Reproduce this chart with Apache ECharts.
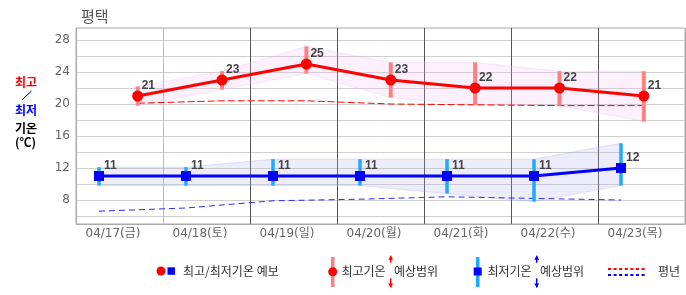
<!DOCTYPE html>
<html><head><meta charset="utf-8">
<script src="https://cdn.jsdelivr.net/npm/echarts@6/dist/echarts.min.js"></script>
<style>html,body{margin:0;padding:0;background:#fff}#c{width:686px;height:295px}</style>
</head><body><div id="c"></div>
<script>
// ---- data ----
const categories = ['04/17(금)','04/18(토)','04/19(일)','04/20(월)','04/21(화)','04/22(수)','04/23(목)'];
const maxTemp = [21, 23, 25, 23, 22, 22, 21];
const maxRangeLow = [19.8, 21.8, 23.8, 20.8, 19.9, 19.8, 17.8];
const maxRangeHigh = [22.2, 24.1, 27.2, 25.2, 25.2, 24.1, 24.1];
const maxNormal = [20.1, 20.4, 20.4, 20.0, 19.9, 19.8, 19.8];
const minTemp = [11, 11, 11, 11, 11, 11, 12];
const minRangeLow = [9.8, 9.8, 9.8, 9.8, 8.8, 7.8, 9.8];
const minRangeHigh = [12.1, 12.1, 13.1, 13.1, 13.1, 13.1, 15.1];
const minNormal = [6.6, 7.0, 7.9, 8.1, 8.4, 8.2, 8.0];
const yTickLabels = [8, 12, 16, 20, 24, 28];
const yMin = 5, yMax = 29.5;

// ---- styles ----
const FONT = '"DejaVu Sans", "Noto Sans CJK KR", sans-serif';
const KFONT = '"Noto Sans CJK KR", sans-serif';
const RED = '#ff0000', BLUE = '#0000ff';
const GRID_TOP = 28, GRID_BOTTOM = 71, GRID_W = 609;
const PLOT_LEFT = 76, LOW_SHIFT = -20.5, HIGH_SHIFT = 19.5;

const chart = echarts.init(document.getElementById('c'), null, {renderer: 'canvas'});

function hiddenX(gi) {
  return {type: 'category', data: categories, gridIndex: gi, show: false, boundaryGap: true};
}
function hiddenY(gi) {
  return {type: 'value', min: yMin, max: yMax, gridIndex: gi, show: false, splitLine: {show: false}};
}
function errBar(xi, lo, hi, color, w, z) {
  return {
    type: 'custom', xAxisIndex: xi, yAxisIndex: xi, z: z, silent: true, clip: false,
    data: categories.map((c, i) => [i, lo[i], hi[i]]),
    encode: {x: 0, y: [1, 2]},
    renderItem: function (params, api) {
      const t = api.coord([api.value(0), api.value(2)]);
      const b = api.coord([api.value(0), api.value(1)]);
      return {type: 'rect', shape: {x: t[0] - w / 2, y: t[1], width: w, height: b[1] - t[1]}, style: {fill: color}};
    }
  };
}
function band(xi, lo, hi, fill, edge, stack) {
  return [
    {type: 'line', xAxisIndex: xi, yAxisIndex: xi, stack: stack, data: lo, symbol: 'none', silent: true, z: 1,
     lineStyle: {width: 1, color: edge}},
    {type: 'line', xAxisIndex: xi, yAxisIndex: xi, stack: stack, data: hi.map((v, i) => +(v - lo[i]).toFixed(2)),
     symbol: 'none', silent: true, z: 1, lineStyle: {width: 1, color: edge}, areaStyle: {color: fill, opacity: 1}}
  ];
}
const labelStyle = {show: true, position: 'right', color: '#444', fontSize: 12, fontWeight: 'bold',
  fontFamily: '"Liberation Sans", Arial, sans-serif'};

const arrow = (x, yTop, yBot, up, color) => {
  const els = [{type: 'line', shape: {x1: x, y1: yTop, x2: x, y2: yBot}, style: {stroke: color, lineWidth: 1.5}}];
  if (up) els.push({type: 'polygon', shape: {points: [[x - 2.5, yTop + 4], [x, yTop], [x + 2.5, yTop + 4]]}, style: {fill: color}});
  else els.push({type: 'polygon', shape: {points: [[x - 2.5, yBot - 4], [x, yBot], [x + 2.5, yBot - 4]]}, style: {fill: color}});
  return els;
};
const ltxt = (x, y, t, extra) => Object.assign({type: 'text', x: x, y: y,
  style: {text: t, fill: '#333', font: '12px ' + KFONT, textVerticalAlign: 'middle'}}, extra || {});

const graphics = [
  // left axis title
  {type: 'text', x: 15, y: 82, style: {text: '최고', fill: RED, font: 'bold 12px ' + KFONT, textVerticalAlign: 'middle'}},
  {type: 'line', shape: {x1: 22, y1: 100, x2: 31.5, y2: 91}, style: {stroke: '#000', lineWidth: 1}},
  {type: 'text', x: 15, y: 110, style: {text: '최저', fill: BLUE, font: 'bold 12px ' + KFONT, textVerticalAlign: 'middle'}},
  {type: 'text', x: 15, y: 128, style: {text: '기온', fill: '#000', font: 'bold 12px ' + KFONT, textVerticalAlign: 'middle'}},
  {type: 'text', x: 15, y: 142, style: {text: '(℃)', fill: '#000', font: 'bold 12px ' + KFONT, textVerticalAlign: 'middle'}},
  // legend 1
  {type: 'circle', shape: {cx: 161, cy: 271, r: 4.5}, style: {fill: RED}},
  {type: 'rect', shape: {x: 167.5, y: 267.3, width: 7.5, height: 7.5}, style: {fill: BLUE}},
  ltxt(183, 271, '최고/최저기온 예보'),
  // legend 2
  {type: 'rect', shape: {x: 331, y: 257, width: 3.5, height: 30}, style: {fill: '#ff8080'}},
  {type: 'circle', shape: {cx: 332.7, cy: 271.7, r: 4.5}, style: {fill: RED}},
  ltxt(341.5, 271, '최고기온'),
  ...arrow(390.7, 255.7, 262.7, true, RED),
  ...arrow(390.7, 278.3, 287.5, false, RED),
  ltxt(394, 271, '예상범위'),
  // legend 3
  {type: 'rect', shape: {x: 476, y: 257, width: 3.5, height: 30}, style: {fill: '#1eaaff'}},
  {type: 'rect', shape: {x: 473.7, y: 267.5, width: 8, height: 8}, style: {fill: BLUE}},
  ltxt(487.5, 271, '최저기온'),
  ...arrow(536.7, 255.7, 262.7, true, BLUE),
  ...arrow(536.7, 278.3, 287.5, false, BLUE),
  ltxt(540, 271, '예상범위'),
  // legend 4
  {type: 'line', shape: {x1: 608, y1: 269, x2: 647, y2: 269}, style: {stroke: RED, lineWidth: 2, lineDash: [3, 2.6]}},
  {type: 'line', shape: {x1: 608, y1: 275, x2: 647, y2: 275}, style: {stroke: BLUE, lineWidth: 2, lineDash: [3, 2.6]}},
  ltxt(658, 271, '평년')
];

const option = {
  animation: false,
  title: {text: '평택', left: 76, top: 4, textStyle: {color: '#555', fontSize: 15, fontWeight: 'normal', fontFamily: KFONT}},
  grid: [
    {left: PLOT_LEFT, width: GRID_W, top: GRID_TOP, bottom: GRID_BOTTOM, show: true, borderColor: '#aaa', borderWidth: 1},
    {left: PLOT_LEFT + LOW_SHIFT, width: GRID_W, top: GRID_TOP, bottom: GRID_BOTTOM},
    {left: PLOT_LEFT + HIGH_SHIFT, width: GRID_W, top: GRID_TOP, bottom: GRID_BOTTOM}
  ],
  xAxis: [
    {type: 'category', data: categories, gridIndex: 0, boundaryGap: true,
     axisLine: {show: true, lineStyle: {color: '#aaa'}}, axisTick: {show: false},
     axisLabel: {interval: 0, color: '#666', fontSize: 12, fontFamily: FONT, margin: 4, padding: [0, 13, 0, 0]},
     splitLine: {show: true, interval: 0, lineStyle: {width: 1,
       color: ['#aaa', '#bbb', '#555', '#555', '#555', '#555', '#555', '#aaa']}}},
    hiddenX(1), hiddenX(2)
  ],
  yAxis: [
    {type: 'value', min: yMin, max: yMax, interval: 1, gridIndex: 0,
     axisLine: {show: true, lineStyle: {color: '#aaa'}}, axisTick: {show: false},
     axisLabel: {formatter: v => yTickLabels.includes(v) ? String(v) : '', color: '#666', fontSize: 12, fontFamily: FONT, margin: 6},
     splitLine: {show: true, lineStyle: {width: 1, color: ['rgba(0,0,0,0)', '#d0d0d0']}}},
    hiddenY(1), hiddenY(2)
  ],
  graphic: graphics,
  series: [
    ...band(2, maxRangeLow, maxRangeHigh, 'rgba(235,180,240,0.2)', 'rgba(230,170,235,0.25)', 'hb'),
    ...band(1, minRangeLow, minRangeHigh, 'rgba(170,170,235,0.22)', 'rgba(160,160,235,0.3)', 'lb'),
    {type: 'line', xAxisIndex: 2, yAxisIndex: 2, data: maxNormal, symbol: 'none', silent: true, z: 2,
     lineStyle: {color: RED, width: 1, type: [7, 3]}},
    {type: 'line', xAxisIndex: 1, yAxisIndex: 1, data: minNormal, symbol: 'none', silent: true, z: 2,
     lineStyle: {color: '#2a2aff', width: 1, type: [6, 4]}},
    errBar(2, maxRangeLow, maxRangeHigh, '#ff8080', 4, 3),
    errBar(1, minRangeLow, minRangeHigh, '#1eaaff', 3.5, 3),
    {type: 'line', xAxisIndex: 2, yAxisIndex: 2, data: maxTemp, z: 5, clip: false,
     symbol: 'circle', symbolSize: 11, itemStyle: {color: RED}, lineStyle: {color: RED, width: 3},
     label: Object.assign({offset: [-6.5, -10]}, labelStyle)},
    {type: 'line', xAxisIndex: 1, yAxisIndex: 1, data: minTemp, z: 5, clip: false,
     symbol: 'rect', symbolSize: 10, itemStyle: {color: BLUE}, lineStyle: {color: BLUE, width: 3},
     label: Object.assign({offset: [-5, -10]}, labelStyle)}
  ]
};
chart.setOption(option);
</script>
</body></html>
